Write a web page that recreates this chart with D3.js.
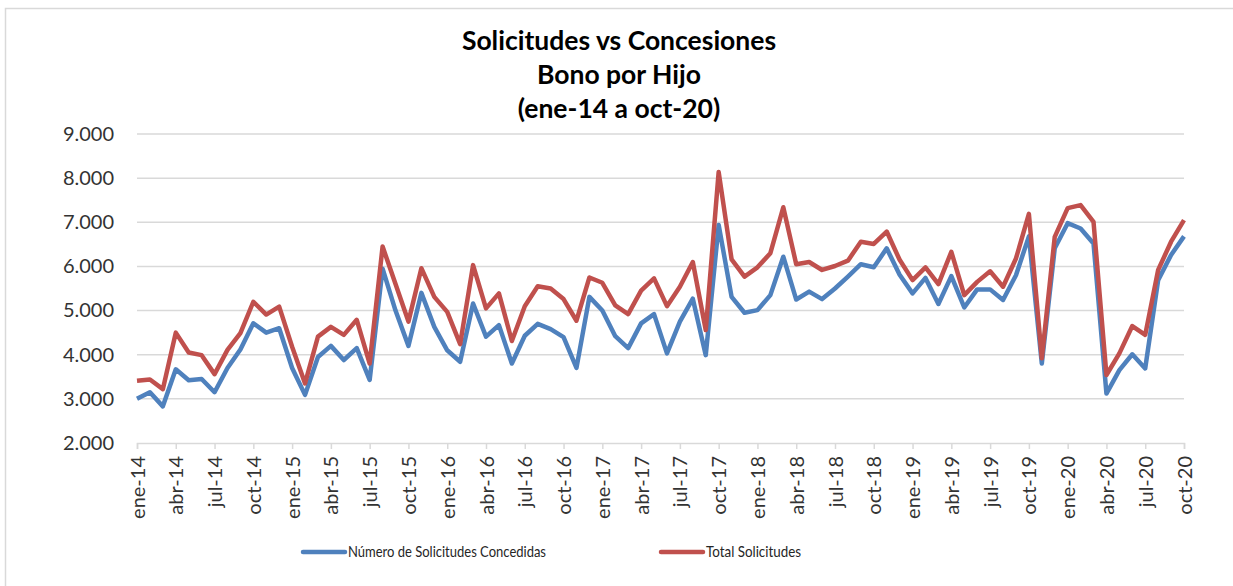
<!DOCTYPE html>
<html>
<head>
<meta charset="utf-8">
<script src="https://cdn.jsdelivr.net/npm/d3@7"></script>
<style>
	body { margin: 0; background: #fff; }
	text { font-family: Lato, "Open Sans", sans-serif; fill: #262626; }
	.title { font-weight: bold; font-size: 26.5px; fill: #000; text-anchor: middle; }
	.axis text { font-size: 20px; fill: #333; }
	.axis path, .axis line { stroke: #d9d9d9; stroke-width: 1.5; }
	.grid line { stroke: #d9d9d9; stroke-width: 1.5; }
	.serie { fill: none; stroke-width: 4.5; stroke-linejoin: round; }
	.legend text { font-size: 15px; }
</style>
</head>
<body>
<svg width="1233" height="586"></svg>
<script>
	// months and years for the x axis
	var meses = ['ene', 'feb', 'mar', 'abr', 'may', 'jun', 'jul', 'ago', 'sep', 'oct', 'nov', 'dic'];
	var anios = ['14', '15', '16', '17', '18', '19', '20'];

	// Número de Solicitudes Concedidas
	var concedidas = [
		3000, 3150, 2830, 3670, 3420, 3450, 3150, 3700, 4120, 4710, 4500, 4600,
		3700, 3090, 3950, 4200, 3880, 4150, 3430, 5950, 5000, 4200, 5400, 4630,
		4100, 3840, 5160, 4410, 4670, 3800, 4430, 4700, 4580, 4400, 3700, 5310,
		5000, 4420, 4150, 4710, 4920, 4030, 4750, 5270, 3990, 6940, 5310, 4950,
		5010, 5350, 6220, 5250, 5430, 5260, 5500, 5770, 6050, 5980, 6410, 5810,
		5390, 5740, 5150, 5780, 5070, 5480, 5480, 5240, 5800, 6680, 3800, 6410,
		6980, 6860, 6520, 3120, 3650, 4010, 3690, 5690, 6260, 6680
	];

	// Total Solicitudes
	var totales = [
		3410, 3440, 3220, 4500, 4050, 3990, 3560, 4110, 4490, 5200, 4910, 5090,
		4180, 3350, 4410, 4630, 4450, 4790, 3800, 6450, 5600, 4750, 5960, 5310,
		4970, 4240, 6030, 5050, 5390, 4310, 5100, 5550, 5500, 5260, 4770, 5750,
		5630, 5120, 4920, 5450, 5730, 5100, 5540, 6100, 4560, 8140, 6160, 5770,
		5980, 6300, 7340, 6050, 6100, 5920, 6010, 6130, 6560, 6510, 6790, 6150,
		5690, 5980, 5600, 6330, 5350, 5650, 5890, 5540, 6180, 7190, 3920, 6670,
		7320, 7390, 7010, 3540, 4030, 4650, 4450, 5920, 6560, 7050
	];

	var yTicks = [2000, 3000, 4000, 5000, 6000, 7000, 8000, 9000];
	var titulo = ['Solicitudes vs Concesiones', 'Bono por Hijo', '(ene-14 a oct-20)'];

	var series = [
		{ name: 'Número de Solicitudes Concedidas', values: concedidas, color: '#4f81bd', width: 198 },
		{ name: 'Total Solicitudes', values: totales, color: '#c0504d', width: 95 }
	];

	// labels like "ene-14" ... "oct-20"
	var labels = [];
	anios.forEach(function(a) {
		meses.forEach(function(m) {
			if (labels.length < concedidas.length) labels.push(m + '-' + a);
		});
	});

	var svg = d3.select('svg');

	// chart border
	svg.append('rect')
		.attr('x', 5.5).attr('y', 8.5)
		.attr('width', 1250).attr('height', 600)
		.attr('fill', 'none').attr('stroke', '#d9d9d9').attr('stroke-width', 1.5);

	var x = d3.scalePoint().domain(labels).range([137, 1184]);
	var y = d3.scaleLinear().domain([2000, 9000]).range([443, 134]);

	var es = d3.formatLocale({ decimal: ',', thousands: '.', grouping: [3], currency: ['', ''] });
	var fmt = es.format(',.0f');

	// gridlines
	svg.append('g').attr('class', 'grid')
		.selectAll('line')
		.data(yTicks.slice(1))
		.enter()
		.append('line')
		.attr('x1', 137).attr('x2', 1184)
		.attr('y1', function(d) { return y(d); })
		.attr('y2', function(d) { return y(d); });

	// y axis (labels only)
	var yAxis = svg.append('g').attr('class', 'axis')
		.attr('transform', 'translate(137,0)')
		.call(d3.axisLeft(y).tickValues(yTicks).tickFormat(fmt).tickSize(0).tickPadding(23));
	yAxis.select('.domain').remove();

	// x axis every 3 months
	var xAxis = svg.append('g').attr('class', 'axis')
		.attr('transform', 'translate(0,' + y(2000) + ')')
		.call(d3.axisBottom(x)
			.tickValues(labels.filter(function(d, i) { return i % 3 === 0; }))
			.tickSizeOuter(0).tickSize(6));
	xAxis.selectAll('text')
		.attr('transform', 'rotate(-90)')
		.attr('text-anchor', 'end')
		.attr('x', -13)
		.attr('y', 0)
		.attr('dy', '0.35em');

	// lines
	var line = d3.line()
		.x(function(d, i) { return x(labels[i]); })
		.y(function(d) { return y(d); });

	svg.selectAll('.serie')
		.data(series)
		.enter()
		.append('path')
		.attr('class', 'serie')
		.attr('stroke', function(d) { return d.color; })
		.attr('d', function(d) { return line(d.values); });

	// title
	svg.append('g')
		.selectAll('text')
		.data(titulo)
		.enter()
		.append('text')
		.attr('class', 'title')
		.attr('x', 619)
		.attr('y', function(d, i) { return 50 + i * 34; })
		.text(function(d) { return d; });

	// legend
	var legX = [303, 661];
	var leg = svg.append('g').attr('class', 'legend')
		.selectAll('g')
		.data(series)
		.enter()
		.append('g')
		.attr('transform', function(d, i) { return 'translate(' + legX[i] + ',552)'; });
	leg.append('line')
		.attr('x1', 0).attr('x2', 42)
		.attr('stroke', function(d) { return d.color; })
		.attr('stroke-width', 4.5)
		.attr('stroke-linecap', 'round');
	leg.append('text')
		.attr('x', 45)
		.attr('dy', '0.35em')
		.attr('textLength', function(d) { return d.width; })
		.attr('lengthAdjust', 'spacingAndGlyphs')
		.text(function(d) { return d.name; });
</script>
</body>
</html>
